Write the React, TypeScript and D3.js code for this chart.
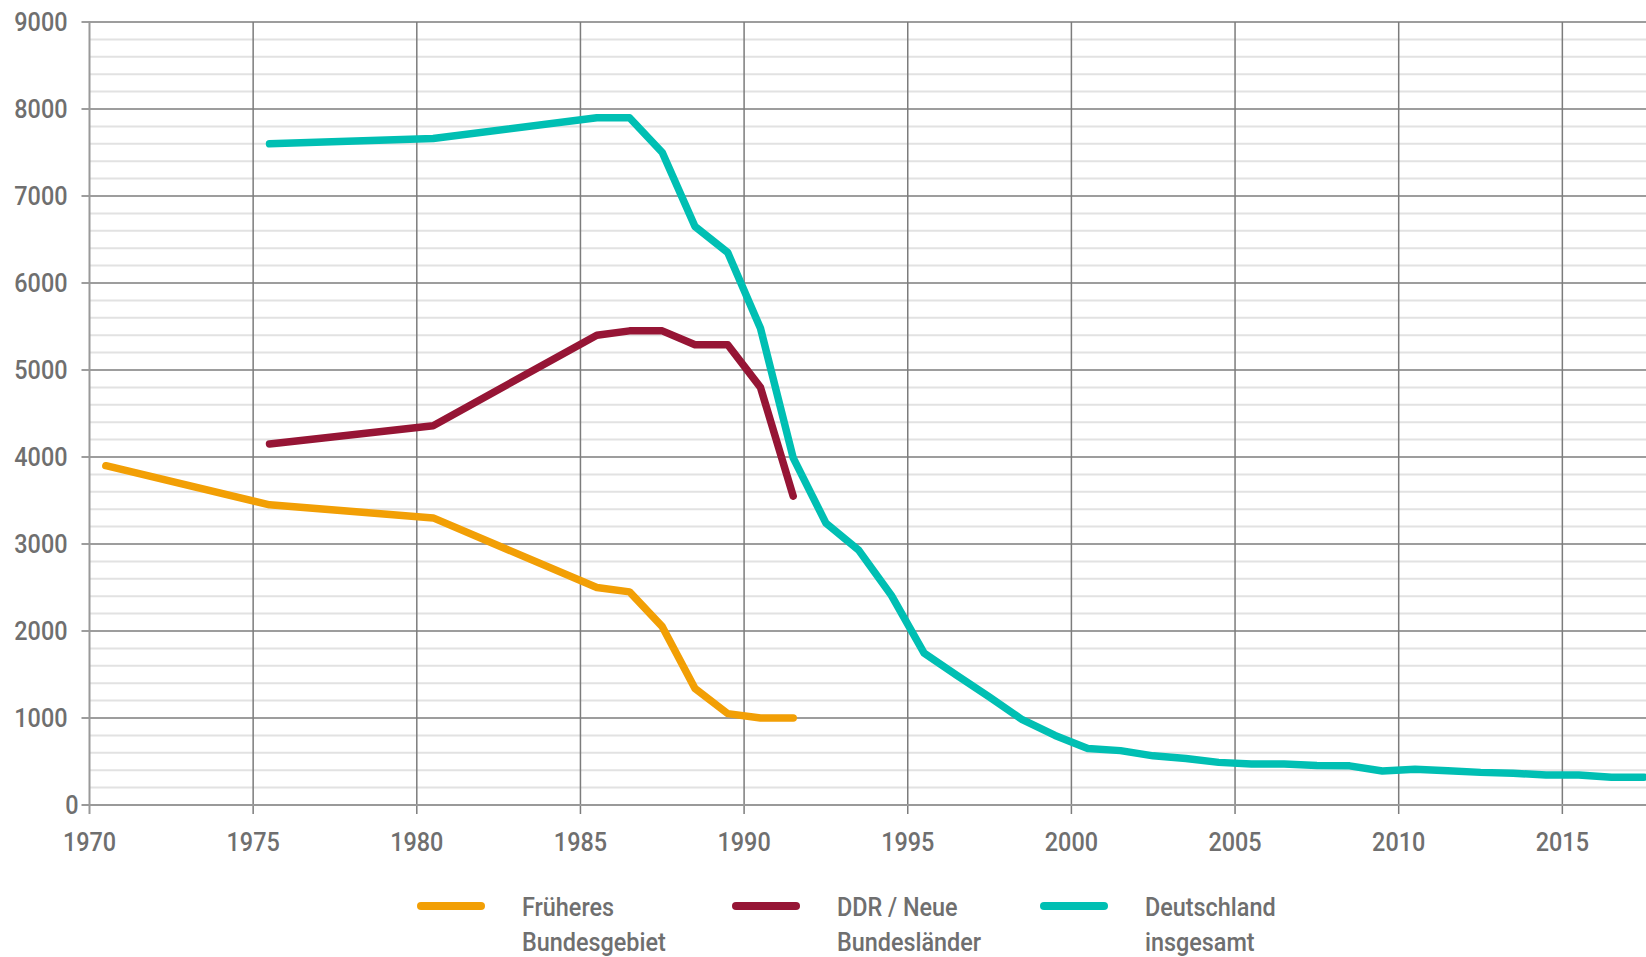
import * as d3 from 'd3';

// Mid-year values (Jahresmitte)
const yearsFrueher = [1970, 1975, 1980, 1985, 1986, 1987, 1988, 1989, 1990, 1991];
const valuesFrueher = [3900, 3450, 3300, 2500, 2450, 2050, 1340, 1050, 1000, 1000];

const yearsDDR = [1975, 1980, 1985, 1986, 1987, 1988, 1989, 1990, 1991];
const valuesDDR = [4150, 4360, 5400, 5450, 5450, 5290, 5290, 4800, 3550];

const yearsGesamt = [
  1975, 1980, 1985, 1986, 1987, 1988, 1989, 1990, 1991, 1992, 1993, 1994, 1995, 1996,
  1997, 1998, 1999, 2000, 2001, 2002, 2003, 2004, 2005, 2006, 2007, 2008, 2009, 2010,
  2011, 2012, 2013, 2014, 2015, 2016, 2017
];
const valuesGesamt = [
  7600, 7660, 7900, 7900, 7500, 6650, 6350, 5480, 3990, 3240, 2930, 2410, 1745, 1490,
  1240, 980, 800, 650, 625, 565, 535, 490, 470, 470, 455, 450, 390, 410,
  395, 375, 365, 345, 345, 320, 320
];

const xTicks = [1970, 1975, 1980, 1985, 1990, 1995, 2000, 2005, 2010, 2015];
const yTicks = [0, 1000, 2000, 3000, 4000, 5000, 6000, 7000, 8000, 9000];
const yMinorTicks = d3.range(0, 9001, 200);

const legendLabels = [
  ['Früheres', 'Bundesgebiet'],
  ['DDR / Neue', 'Bundesländer'],
  ['Deutschland', 'insgesamt']
];

const COLORS = ['#F29F05', '#961535', '#00BFB3'];
const FONT = "Roboto, 'Liberation Sans', sans-serif";
const LABEL_COLOR = '#6f6f6f';
const SQUEEZE = 0.9; // condensed look of the original typeface

const W = 1646;
const H = 957;

function Label({ x, y, anchor, children }: { x: number; y: number; anchor: string; children: any }) {
  return (
    <text transform={`translate(${x},${y}) scale(${SQUEEZE},1)`} textAnchor={anchor}>
      {children}
    </text>
  );
}

export default function App() {
  const x = d3.scaleLinear().domain([1970, 2020]).range([89.5, 89.5 + 50 * 32.73]);
  const y = d3.scaleLinear().domain([0, 9000]).range([805, 22]);

  const line = d3.line<[number, number]>()
    .x(d => x(d[0] + 0.5))
    .y(d => y(d[1]));

  const series = [
    d3.zip(yearsFrueher, valuesFrueher) as [number, number][],
    d3.zip(yearsDDR, valuesDDR) as [number, number][],
    d3.zip(yearsGesamt, valuesGesamt) as [number, number][]
  ];

  const left = x(1970);
  const bottom = y(0);
  const legendX = [421, 736, 1044];

  return (
    <svg width={W} height={H} style={{ display: 'block', background: '#fff' }}>
      <style>{`body{margin:0;overflow:hidden}`}</style>

      {/* minor grid */}
      <g>
        {yMinorTicks.filter(v => v % 1000 !== 0).map(v => (
          <line key={v} x1={left} x2={W} y1={y(v)} y2={y(v)} stroke="#e2e2e2" strokeWidth={2} />
        ))}
      </g>

      {/* major horizontal grid + ticks */}
      <g>
        {yTicks.filter(v => v !== 0).map(v => (
          <line key={v} x1={left - 8} x2={W} y1={y(v)} y2={y(v)} stroke="#7c7c7c" strokeWidth={1.5} />
        ))}
      </g>

      {/* vertical grid + ticks */}
      <g>
        {xTicks.filter(t => t !== 1970).map(t => (
          <line key={t} x1={x(t)} x2={x(t)} y1={y(9000)} y2={bottom + 9} stroke="#7c7c7c" strokeWidth={1.5} />
        ))}
      </g>

      {/* axes */}
      <line x1={left} x2={left} y1={y(9000) - 1} y2={bottom + 9} stroke="#999" strokeWidth={2} />
      <line x1={left - 8} x2={W} y1={bottom} y2={bottom} stroke="#999" strokeWidth={2} />

      {/* data lines */}
      {series.map((s, i) => (
        <path
          key={i}
          d={line(s) || ''}
          fill="none"
          stroke={COLORS[i]}
          strokeWidth={7.5}
          strokeLinecap="round"
          strokeLinejoin="round"
        />
      ))}

      {/* y labels */}
      <g fontFamily={FONT} fontSize={26} fontWeight={500} fill={LABEL_COLOR}>
        {yTicks.map(v => (
          <Label key={v} x={v === 0 ? left - 11 : left - 22} y={y(v) + 9} anchor="end">{v}</Label>
        ))}
      </g>

      {/* x labels */}
      <g fontFamily={FONT} fontSize={26} fontWeight={500} fill={LABEL_COLOR}>
        {xTicks.map(t => (
          <Label key={t} x={x(t)} y={bottom + 46} anchor="middle">{t}</Label>
        ))}
      </g>

      {/* legend */}
      <g fontFamily={FONT} fontSize={26} fontWeight={500} fill={LABEL_COLOR}>
        {legendLabels.map((lab, i) => (
          <g key={i} transform={`translate(${legendX[i]},906)`}>
            <line x1={0} x2={60} y1={0} y2={0} stroke={COLORS[i]} strokeWidth={8} strokeLinecap="round" />
            <Label x={101} y={10} anchor="start">{lab[0]}</Label>
            <Label x={101} y={45} anchor="start">{lab[1]}</Label>
          </g>
        ))}
      </g>
    </svg>
  );
}
